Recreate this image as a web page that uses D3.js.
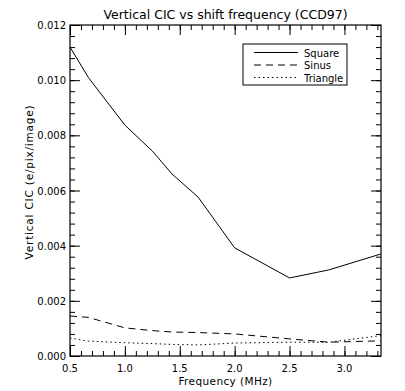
<!DOCTYPE html>
<html>
<head>
<meta charset="utf-8">
<script src="https://cdn.jsdelivr.net/npm/d3@7"></script>
<style>
  body { margin: 0; background: #fff; }
  text { font-family: "DejaVu Sans", sans-serif; fill: #000; }
</style>
</head>
<body>
<div id="chart"></div>
<script>
const freq = [0.5, 0.667, 1.0, 1.25, 1.429, 1.667, 2.0, 2.5, 2.857, 3.333];
const square = [0.0112, 0.0101, 0.00837, 0.00743, 0.0066, 0.00576, 0.00392, 0.00283, 0.00312, 0.0037];
const sinus = [0.00145, 0.0014, 0.00102, 0.00092, 0.00087, 0.00085, 0.0008, 0.00062, 0.0005, 0.00055];
const triangle = [0.00065, 0.00054, 0.00048, 0.00045, 0.00042, 0.0004, 0.00047, 0.0005, 0.0005, 0.00074];
const xTicks = [0.5, 1.0, 1.5, 2.0, 2.5, 3.0];
const yTicks = [0.000, 0.002, 0.004, 0.006, 0.008, 0.010, 0.012];
const seriesNames = ['Square', 'Sinus', 'Triangle'];

const W = 405, H = 391;
const MARGIN = { top: 25, right: 24, bottom: 35, left: 70 };
const iw = W - MARGIN.left - MARGIN.right;
const ih = H - MARGIN.top - MARGIN.bottom;

const svg = d3.select('#chart').append('svg').attr('width', W).attr('height', H);
const g = svg.append('g').attr('transform', 'translate(' + MARGIN.left + ',' + MARGIN.top + ')');

const x = d3.scaleLinear().domain([0.5, 3.333]).range([0, iw]);
const y = d3.scaleLinear().domain([0, 0.012]).range([ih, 0]);

const xMinor = d3.range(0.5, 3.34, 0.1);
const yMinor = d3.range(0, 0.01201, 0.0004);

// ticks on all four sides (minor first, then major)
function ticks(axisFn, scale, vals, len) {
  return axisFn(scale).tickValues(vals).tickSizeInner(len).tickSizeOuter(0).tickFormat('');
}
const fx = d3.format('.1f'), fy = d3.format('.3f');

g.append('g').attr('transform', 'translate(0,' + ih + ')').call(ticks(d3.axisTop, x, xMinor, 5));
g.append('g').attr('transform', 'translate(0,' + ih + ')').call(ticks(d3.axisTop, x, xTicks, 10));
g.append('g').call(ticks(d3.axisBottom, x, xMinor, 5));
g.append('g').call(ticks(d3.axisBottom, x, xTicks, 10));
g.append('g').call(ticks(d3.axisRight, y, yMinor, 5));
g.append('g').call(ticks(d3.axisRight, y, yTicks, 10));
g.append('g').attr('transform', 'translate(' + iw + ',0)').call(ticks(d3.axisLeft, y, yMinor, 5));
g.append('g').attr('transform', 'translate(' + iw + ',0)').call(ticks(d3.axisLeft, y, yTicks, 10));
g.selectAll('.domain').remove();
g.selectAll('.tick line').attr('stroke', '#000');

// tick labels
g.append('g').selectAll('text').data(xTicks).join('text')
  .attr('x', d => x(d)).attr('y', ih + 16)
  .attr('text-anchor', 'middle').attr('font-size', 10).text(fx);
g.append('g').selectAll('text').data(yTicks).join('text')
  .attr('x', -4).attr('y', d => y(d) + 4)
  .attr('text-anchor', 'end').attr('font-size', 10).text(fy);

// frame
g.append('rect').attr('width', iw).attr('height', ih)
  .attr('fill', 'none').attr('stroke', '#000').attr('stroke-width', 1.2);

// titles
svg.append('text').attr('x', MARGIN.left + iw / 2).attr('y', 19)
  .attr('text-anchor', 'middle').attr('font-size', 12.5).text('Vertical CIC vs shift frequency (CCD97)');
svg.append('text').attr('x', MARGIN.left + iw / 2).attr('y', 385)
  .attr('text-anchor', 'middle').attr('font-size', 10.5).attr('letter-spacing', 0.4).text('Frequency (MHz)');
svg.append('text').attr('transform', 'translate(33,' + 182 + ') rotate(-90)')
  .attr('text-anchor', 'middle').attr('font-size', 10.5).attr('letter-spacing', 0.8)
  .text('Vertical CIC (e/pix/image)');

// lines
const dashes = [null, '7,5', '1.5,3'];
const data = [square, sinus, triangle];
const line = d3.line().x((d, i) => x(freq[i])).y(d => y(d));
g.append('g').selectAll('path').data(data).join('path')
  .attr('d', line).attr('fill', 'none').attr('stroke', '#000').attr('stroke-width', 1)
  .attr('stroke-dasharray', (d, i) => dashes[i]);

// legend
const lg = svg.append('g').attr('transform', 'translate(243,44)');
lg.append('rect').attr('width', 104).attr('height', 41)
  .attr('fill', '#fff').attr('stroke', '#000').attr('stroke-width', 1);
const rows = lg.selectAll('g.row').data(seriesNames).join('g').attr('class', 'row')
  .attr('transform', (d, i) => 'translate(0,' + (8.5 + i * 12.5) + ')');
rows.append('line').attr('x1', 11).attr('x2', 55).attr('stroke', '#000')
  .attr('stroke-dasharray', (d, i) => dashes[i]);
rows.append('text').attr('x', 61).attr('y', 4).attr('font-size', 10).text(d => d);
</script>
</body>
</html>
